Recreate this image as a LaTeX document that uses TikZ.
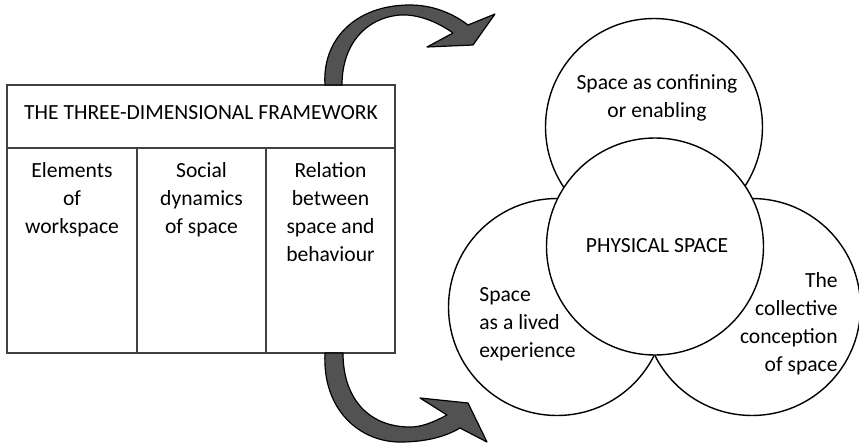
\documentclass[tikz,border=0pt]{standalone}
\usepackage{fontspec}
\setmainfont{Carlito}
\begin{document}
\begin{tikzpicture}[x=0.5pt,y=-0.5pt, line width=0.7pt,
    font=\fontsize{10.8}{14}\selectfont]
  \tikzset{
    bubble/.style={circle, draw, fill=white, minimum size=108.5pt, inner sep=0pt},
    coltext/.style={anchor=north, align=center},
    bendarrow/.style={draw=black, fill=black!68, line width=0.6pt, line join=round},
  }
  \useasboundingbox (0,0) rectangle (859,445);

  % framework table
  \draw[black!75] (7,85) rectangle (395,353);
  \draw[black!75] (7,148) -- (395,148);
  \draw[black!75] (137,148) -- (137,353);
  \draw[black!75] (266,148) -- (266,353);
  \node (frame) at (201,113) {THE THREE-DIMENSIONAL FRAMEWORK};
  \node[coltext] (elements) at (72,155) {Elements\\of\\workspace};
  \node[coltext] (social) at (201.5,155) {Social\\dynamics\\of space};
  \node[coltext] (relation) at (330.5,155) {Relation\\between\\space and\\behaviour};

  % curved arrows
  \draw[bendarrow] (325,85) .. controls (322,40) and (355,5) .. (410,5)
    .. controls (435,5) and (455,15) .. (468,25) -- (495,14) -- (473,45)
    -- (427,47) -- (453,33) .. controls (435,20) and (415,14) .. (400,15)
    .. controls (365,18) and (342,45) .. (342,85) -- cycle;
  \draw[bendarrow] (325,353) .. controls (322,410) and (360,442) .. (400,442)
    .. controls (425,442) and (445,437) .. (460,428) -- (487,442) -- (468,403)
    -- (420,398) -- (447,415) .. controls (430,424) and (420,427) .. (410,427)
    .. controls (370,427) and (343,400) .. (343,353) -- cycle;

  % circles
  \node[bubble] (confine) at (654,127) {};
  \node[bubble] (lived) at (557,307) {};
  \node[bubble] (collective) at (752,307) {};
  \node[bubble] (physical) at (655,246.5) {};

  \node[align=center] (confinetxt) at (657,98) {Space as confining\\or enabling};
  \node (physicaltxt) at (657,246) {PHYSICAL SPACE};
  \node[anchor=west, align=left] (livedtxt) at (472,324) {Space\\as a lived\\experience};
  \node[anchor=east, align=right] (collectivetxt) at (845,324) {The\\collective\\conception\\of space};
\end{tikzpicture}
\end{document}
